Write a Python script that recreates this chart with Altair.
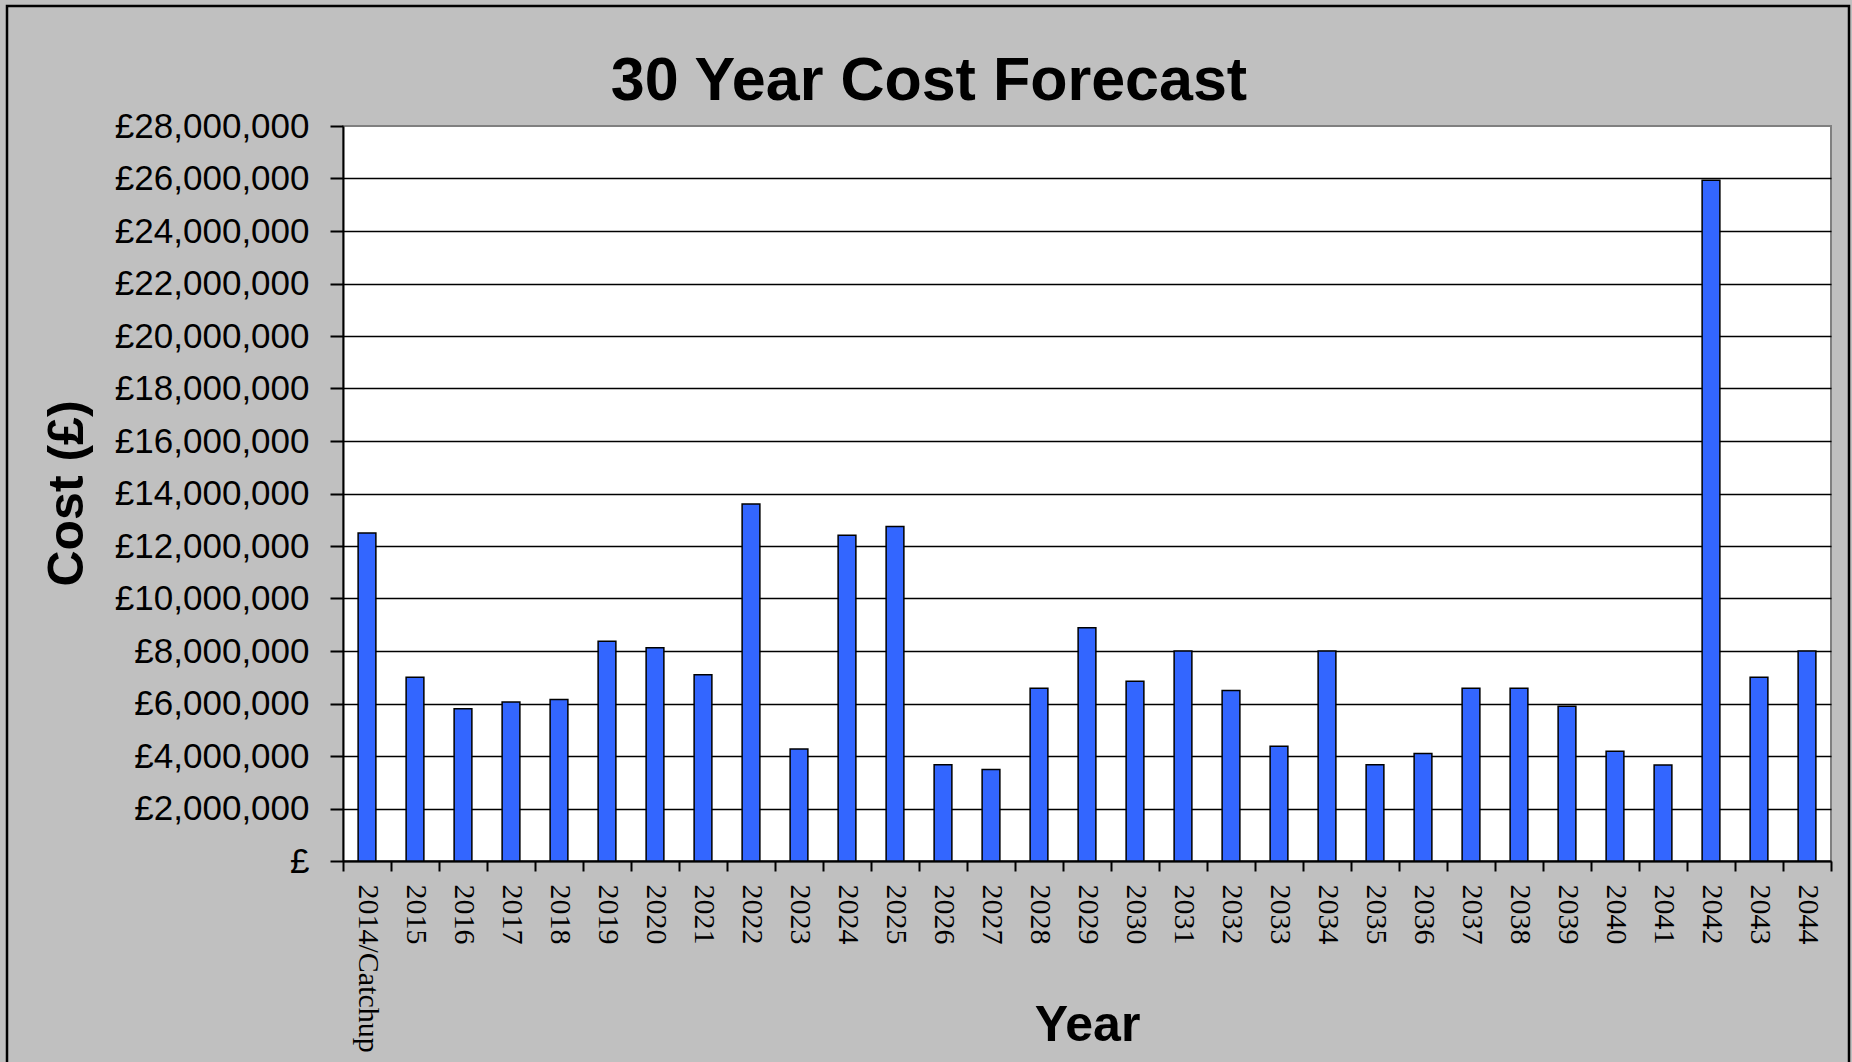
import altair as alt
import pandas as pd

# Forecast years (first column includes the catch-up backlog)
years = ["2014/Catchup"] + [str(y) for y in range(2015, 2045)]

# Forecast cost per year, in pounds
costs = [
    12_500_000, 7_000_000, 5_800_000, 6_060_000, 6_150_000, 8_370_000,
    8_120_000, 7_100_000, 13_600_000, 4_270_000, 12_410_000, 12_740_000,
    3_670_000, 3_490_000, 6_580_000, 8_890_000, 6_850_000, 8_000_000,
    6_500_000, 4_370_000, 8_000_000, 3_670_000, 4_100_000, 6_580_000,
    6_580_000, 5_900_000, 4_180_000, 3_660_000, 25_930_000, 7_000_000,
    8_000_000,
]

# Y axis tick values (£0 to £28m in £2m steps)
y_ticks = list(range(0, 28_000_001, 2_000_000))

df = pd.DataFrame({"Year": years, "Cost": costs})

bars = alt.Chart(df).mark_bar(
    color="#3366FF",
    stroke="black",
    strokeWidth=1.5,
    width=alt.RelativeBandSize(0.37),
).encode(
    x=alt.X(
        "Year:N",
        sort=years,
        scale=alt.Scale(paddingInner=0, paddingOuter=0),
        axis=alt.Axis(
            title="Year",
            titleFont="Liberation Sans",
            titleFontSize=50,
            titleFontWeight="bold",
            titleColor="black",
            titleY=179,
            titleBaseline="alphabetic",
            labelFont="Liberation Serif",
            labelFontSize=30,
            labelColor="black",
            labelAngle=90,
            labelAlign="left",
            labelBaseline="middle",
            labelPadding=13,
            labelLimit=0,
            labelOverlap=False,
            tickBand="extent",
            tickSize=10,
            tickColor="black",
            tickWidth=2,
            domainColor="black",
            domainWidth=2,
            grid=False,
        ),
    ),
    y=alt.Y(
        "Cost:Q",
        scale=alt.Scale(domain=[0, 28_000_000], nice=False),
        axis=alt.Axis(
            title="Cost (£)",
            titleFont="Liberation Sans",
            titleFontSize=50,
            titleFontWeight="bold",
            titleColor="black",
            titleAngle=270,
            titleAlign="center",
            titleBaseline="middle",
            titleX=-276,
            titleY=367,
            values=y_ticks,
            labelExpr="datum.value == 0 ? '£' : '£' + format(datum.value, ',')",
            labelFont="Liberation Sans",
            labelFontSize=35,
            labelColor="black",
            labelPadding=21,
            labelLimit=0,
            tickSize=13,
            tickColor="black",
            tickWidth=2,
            domainColor="black",
            domainWidth=2,
            gridColor={
                "condition": {"test": "datum.value >= 28000000", "value": "transparent"},
                "value": "black",
            },
            gridWidth=1.6,
        ),
    ),
)

# Outer frame around the whole chart
frame = alt.Chart(pd.DataFrame({"f": [0]})).mark_rect(
    fill="transparent", stroke="black", strokeWidth=2.5
).encode(
    x=alt.value(-336),
    x2=alt.value(1506),
    y=alt.value(-120),
    y2=alt.value(960),
)

chart = alt.layer(bars, frame).properties(
    width=1488,
    height=735,
    background="#C0C0C0",
    padding={"left": 343, "top": 126, "right": 21, "bottom": 201},
    autosize=alt.AutoSizeParams(type="none"),
    title=alt.TitleParams(
        "30 Year Cost Forecast",
        font="Liberation Sans",
        fontSize=61,
        fontWeight="bold",
        color="black",
        anchor="middle",
        frame="group",
        baseline="alphabetic",
        offset=0,
        dx=-158,
        dy=156,
    ),
).configure_view(
    fill="white",
    stroke="#808080",
    strokeWidth=2,
)

chart.save("out.html", embed_options={"renderer": "svg", "actions": False})
